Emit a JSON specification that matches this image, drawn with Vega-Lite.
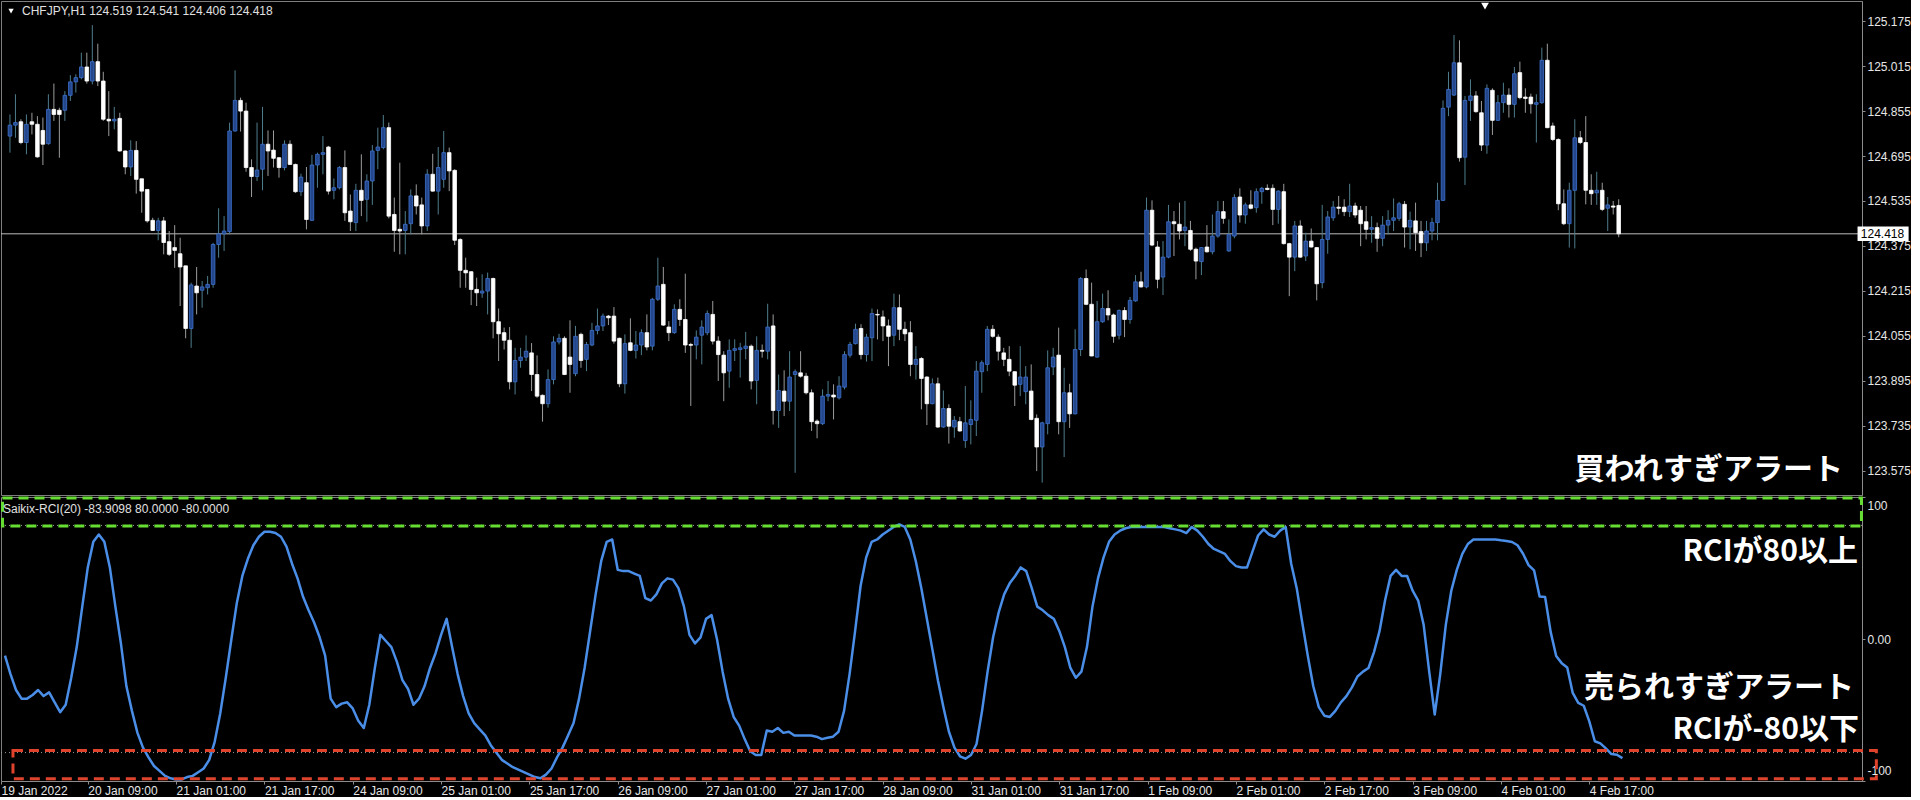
{
"$schema": "https://vega.github.io/schema/vega-lite/v6.json",
"background": "#000000",
"padding": 0,
"spacing": 2,
"bounds": "flush",
"config": {"view": {"stroke": "#7f7f7f", "strokeWidth": 1}},
"datasets": {"bars": [
{"i":0,"o":124.766,"h":124.843,"l":124.707,"c":124.805,"r":-11.7},
{"i":1,"o":124.805,"h":124.915,"l":124.760,"c":124.814,"r":-24.7},
{"i":2,"o":124.817,"h":124.826,"l":124.737,"c":124.743,"r":-35.9},
{"i":3,"o":124.743,"h":124.843,"l":124.701,"c":124.808,"r":-42},
{"i":4,"o":124.817,"h":124.849,"l":124.772,"c":124.808,"r":-42},
{"i":5,"o":124.808,"h":124.837,"l":124.689,"c":124.692,"r":-39.4},
{"i":6,"o":124.786,"h":124.832,"l":124.663,"c":124.737,"r":-35.9},
{"i":7,"o":124.739,"h":124.915,"l":124.735,"c":124.861,"r":-40.2},
{"i":8,"o":124.861,"h":124.953,"l":124.820,"c":124.843,"r":-37.6},
{"i":9,"o":124.858,"h":124.867,"l":124.689,"c":124.843,"r":-44.6},
{"i":10,"o":124.858,"h":124.926,"l":124.820,"c":124.911,"r":-51.5},
{"i":11,"o":124.911,"h":124.983,"l":124.891,"c":124.959,"r":-46.3},
{"i":12,"o":124.959,"h":124.986,"l":124.921,"c":124.974,"r":-27.3},
{"i":13,"o":124.974,"h":125.063,"l":124.968,"c":125.012,"r":-5.7},
{"i":14,"o":125.012,"h":125.063,"l":124.953,"c":124.962,"r":22.8},
{"i":15,"o":124.962,"h":125.161,"l":124.950,"c":125.031,"r":50.4},
{"i":16,"o":125.031,"h":125.095,"l":124.944,"c":124.962,"r":68.4},
{"i":17,"o":124.962,"h":124.995,"l":124.820,"c":124.826,"r":73.6},
{"i":18,"o":124.826,"h":124.926,"l":124.766,"c":124.820,"r":68.4},
{"i":19,"o":124.820,"h":124.870,"l":124.790,"c":124.826,"r":50.4},
{"i":20,"o":124.829,"h":124.849,"l":124.710,"c":124.713,"r":22.8},
{"i":21,"o":124.713,"h":124.715,"l":124.630,"c":124.656,"r":-3.1},
{"i":22,"o":124.656,"h":124.751,"l":124.624,"c":124.715,"r":-33.3},
{"i":23,"o":124.715,"h":124.748,"l":124.561,"c":124.612,"r":-50.6},
{"i":24,"o":124.614,"h":124.614,"l":124.493,"c":124.570,"r":-66.1},
{"i":25,"o":124.576,"h":124.576,"l":124.458,"c":124.464,"r":-76.5},
{"i":26,"o":124.466,"h":124.475,"l":124.428,"c":124.430,"r":-83.4},
{"i":27,"o":124.430,"h":124.475,"l":124.395,"c":124.464,"r":-89.4},
{"i":28,"o":124.464,"h":124.478,"l":124.345,"c":124.387,"r":-92.9},
{"i":29,"o":124.390,"h":124.428,"l":124.339,"c":124.345,"r":-96.4},
{"i":30,"o":124.369,"h":124.449,"l":124.297,"c":124.359,"r":-98.1},
{"i":31,"o":124.347,"h":124.404,"l":124.161,"c":124.300,"r":-98.9},
{"i":32,"o":124.304,"h":124.304,"l":124.046,"c":124.081,"r":-98.9},
{"i":33,"o":124.081,"h":124.244,"l":124.012,"c":124.236,"r":-97.2},
{"i":34,"o":124.232,"h":124.300,"l":124.131,"c":124.208,"r":-96.4},
{"i":35,"o":124.217,"h":124.250,"l":124.155,"c":124.229,"r":-93.8},
{"i":36,"o":124.226,"h":124.268,"l":124.202,"c":124.238,"r":-91.2},
{"i":37,"o":124.238,"h":124.386,"l":124.226,"c":124.380,"r":-85.1},
{"i":38,"o":124.380,"h":124.509,"l":124.333,"c":124.418,"r":-72.2},
{"i":39,"o":124.418,"h":124.481,"l":124.357,"c":124.428,"r":-52.3},
{"i":40,"o":124.426,"h":124.814,"l":124.416,"c":124.784,"r":-27.3},
{"i":41,"o":124.784,"h":125.000,"l":124.782,"c":124.893,"r":-0.5},
{"i":42,"o":124.893,"h":124.903,"l":124.782,"c":124.855,"r":25.4},
{"i":43,"o":124.855,"h":124.885,"l":124.639,"c":124.654,"r":44.4},
{"i":44,"o":124.654,"h":124.683,"l":124.549,"c":124.622,"r":56.5},
{"i":45,"o":124.622,"h":124.814,"l":124.606,"c":124.645,"r":66},
{"i":46,"o":124.648,"h":124.870,"l":124.573,"c":124.737,"r":72},
{"i":47,"o":124.737,"h":124.786,"l":124.624,"c":124.713,"r":75.5},
{"i":48,"o":124.716,"h":124.786,"l":124.654,"c":124.687,"r":75.5},
{"i":49,"o":124.689,"h":124.691,"l":124.618,"c":124.654,"r":74.6},
{"i":50,"o":124.654,"h":124.751,"l":124.644,"c":124.737,"r":72},
{"i":51,"o":124.737,"h":124.751,"l":124.663,"c":124.665,"r":65.1},
{"i":52,"o":124.665,"h":124.668,"l":124.564,"c":124.568,"r":53},
{"i":53,"o":124.568,"h":124.632,"l":124.553,"c":124.620,"r":42.7},
{"i":54,"o":124.600,"h":124.656,"l":124.434,"c":124.469,"r":29.7},
{"i":55,"o":124.466,"h":124.699,"l":124.464,"c":124.663,"r":20.2},
{"i":56,"o":124.663,"h":124.707,"l":124.582,"c":124.701,"r":11.6},
{"i":57,"o":124.701,"h":124.766,"l":124.630,"c":124.707,"r":1.2},
{"i":58,"o":124.727,"h":124.731,"l":124.558,"c":124.570,"r":-11.7},
{"i":59,"o":124.573,"h":124.615,"l":124.541,"c":124.582,"r":-42},
{"i":60,"o":124.582,"h":124.659,"l":124.576,"c":124.654,"r":-48},
{"i":61,"o":124.654,"h":124.715,"l":124.464,"c":124.493,"r":-45.5},
{"i":62,"o":124.499,"h":124.558,"l":124.428,"c":124.461,"r":-44.6},
{"i":63,"o":124.458,"h":124.596,"l":124.428,"c":124.573,"r":-48.9},
{"i":64,"o":124.573,"h":124.701,"l":124.481,"c":124.537,"r":-57.5},
{"i":65,"o":124.541,"h":124.630,"l":124.461,"c":124.606,"r":-62.7},
{"i":66,"o":124.606,"h":124.734,"l":124.521,"c":124.713,"r":-46.3},
{"i":67,"o":124.715,"h":124.796,"l":124.648,"c":124.727,"r":-20.4},
{"i":68,"o":124.725,"h":124.841,"l":124.719,"c":124.796,"r":2.9},
{"i":69,"o":124.796,"h":124.814,"l":124.473,"c":124.481,"r":-1.4},
{"i":70,"o":124.487,"h":124.547,"l":124.354,"c":124.430,"r":-5.7},
{"i":71,"o":124.434,"h":124.671,"l":124.345,"c":124.428,"r":-16.1},
{"i":72,"o":124.430,"h":124.499,"l":124.345,"c":124.452,"r":-29},
{"i":73,"o":124.454,"h":124.576,"l":124.416,"c":124.553,"r":-35},
{"i":74,"o":124.553,"h":124.594,"l":124.487,"c":124.517,"r":-46.3},
{"i":75,"o":124.521,"h":124.547,"l":124.416,"c":124.446,"r":-42},
{"i":76,"o":124.446,"h":124.648,"l":124.428,"c":124.630,"r":-33.3},
{"i":77,"o":124.630,"h":124.703,"l":124.568,"c":124.570,"r":-20.4},
{"i":78,"o":124.570,"h":124.727,"l":124.487,"c":124.654,"r":-10},
{"i":79,"o":124.612,"h":124.784,"l":124.582,"c":124.707,"r":2.9},
{"i":80,"o":124.707,"h":124.725,"l":124.570,"c":124.642,"r":14.2},
{"i":81,"o":124.644,"h":124.648,"l":124.378,"c":124.395,"r":-5.7},
{"i":82,"o":124.398,"h":124.402,"l":124.226,"c":124.288,"r":-24.7},
{"i":83,"o":124.288,"h":124.333,"l":124.226,"c":124.279,"r":-40.2},
{"i":84,"o":124.283,"h":124.285,"l":124.164,"c":124.220,"r":-52.3},
{"i":85,"o":124.220,"h":124.262,"l":124.161,"c":124.208,"r":-59.2},
{"i":86,"o":124.207,"h":124.274,"l":124.190,"c":124.214,"r":-63.6},
{"i":87,"o":124.214,"h":124.280,"l":124.131,"c":124.259,"r":-67.9},
{"i":88,"o":124.259,"h":124.262,"l":124.046,"c":124.105,"r":-74.8},
{"i":89,"o":124.105,"h":124.152,"l":123.965,"c":124.062,"r":-79.9},
{"i":90,"o":124.066,"h":124.084,"l":124.006,"c":124.039,"r":-85.1},
{"i":91,"o":124.039,"h":124.086,"l":123.864,"c":123.891,"r":-87.7},
{"i":92,"o":123.891,"h":124.012,"l":123.846,"c":123.967,"r":-90.3},
{"i":93,"o":123.967,"h":124.012,"l":123.941,"c":123.979,"r":-92},
{"i":94,"o":123.979,"h":124.056,"l":123.965,"c":124.000,"r":-93.8},
{"i":95,"o":123.994,"h":124.029,"l":123.858,"c":123.917,"r":-95.5},
{"i":96,"o":123.917,"h":123.985,"l":123.834,"c":123.840,"r":-97.2},
{"i":97,"o":123.843,"h":123.846,"l":123.749,"c":123.813,"r":-98.1},
{"i":98,"o":123.813,"h":123.935,"l":123.799,"c":123.899,"r":-95.5},
{"i":99,"o":123.899,"h":124.053,"l":123.882,"c":124.033,"r":-91.2},
{"i":100,"o":124.033,"h":124.062,"l":124.024,"c":124.046,"r":-83.4},
{"i":101,"o":124.046,"h":124.053,"l":123.915,"c":123.917,"r":-76.5},
{"i":102,"o":123.979,"h":124.110,"l":123.852,"c":123.953,"r":-67.9},
{"i":103,"o":123.920,"h":124.090,"l":123.911,"c":124.053,"r":-59.2},
{"i":104,"o":124.060,"h":124.066,"l":123.941,"c":123.967,"r":-42},
{"i":105,"o":123.971,"h":124.033,"l":123.929,"c":124.024,"r":-20.4},
{"i":106,"o":124.022,"h":124.101,"l":124.018,"c":124.074,"r":5.5},
{"i":107,"o":124.074,"h":124.152,"l":124.060,"c":124.090,"r":31.4},
{"i":108,"o":124.090,"h":124.134,"l":124.072,"c":124.125,"r":54.8},
{"i":109,"o":124.125,"h":124.129,"l":124.093,"c":124.119,"r":68.4},
{"i":110,"o":124.125,"h":124.157,"l":124.027,"c":124.036,"r":70.1},
{"i":111,"o":124.046,"h":124.048,"l":123.872,"c":123.884,"r":48.7},
{"i":112,"o":123.884,"h":124.060,"l":123.849,"c":124.027,"r":47.8},
{"i":113,"o":124.030,"h":124.117,"l":124.000,"c":124.003,"r":47.8},
{"i":114,"o":124.003,"h":124.072,"l":123.974,"c":124.022,"r":46.1},
{"i":115,"o":124.022,"h":124.078,"l":123.986,"c":124.066,"r":44.4},
{"i":116,"o":124.066,"h":124.131,"l":124.003,"c":124.015,"r":28.8},
{"i":117,"o":124.018,"h":124.190,"l":124.003,"c":124.185,"r":27.1},
{"i":118,"o":124.185,"h":124.333,"l":124.179,"c":124.232,"r":31.4},
{"i":119,"o":124.238,"h":124.300,"l":124.090,"c":124.093,"r":39.2},
{"i":120,"o":124.086,"h":124.107,"l":124.036,"c":124.066,"r":42.7},
{"i":121,"o":124.066,"h":124.167,"l":124.062,"c":124.149,"r":41.8},
{"i":122,"o":124.149,"h":124.185,"l":124.090,"c":124.113,"r":35.8},
{"i":123,"o":124.113,"h":124.276,"l":123.994,"c":124.022,"r":22.8},
{"i":124,"o":124.024,"h":124.030,"l":123.805,"c":124.021,"r":2.9},
{"i":125,"o":124.022,"h":124.074,"l":123.971,"c":124.050,"r":-3.1},
{"i":126,"o":124.057,"h":124.110,"l":123.953,"c":124.086,"r":1.2},
{"i":127,"o":124.066,"h":124.145,"l":124.057,"c":124.134,"r":14.2},
{"i":128,"o":124.131,"h":124.179,"l":124.024,"c":124.036,"r":16.8},
{"i":129,"o":124.036,"h":124.053,"l":123.894,"c":123.988,"r":-0.5},
{"i":130,"o":123.986,"h":124.000,"l":123.822,"c":123.923,"r":-23},
{"i":131,"o":123.929,"h":124.042,"l":123.870,"c":124.003,"r":-42},
{"i":132,"o":124.003,"h":124.042,"l":123.965,"c":124.009,"r":-54.9},
{"i":133,"o":124.006,"h":124.030,"l":123.906,"c":124.012,"r":-61},
{"i":134,"o":124.010,"h":124.069,"l":123.971,"c":124.018,"r":-70.5},
{"i":135,"o":124.018,"h":124.024,"l":123.864,"c":123.894,"r":-79.1},
{"i":136,"o":123.896,"h":124.053,"l":123.811,"c":124.003,"r":-81.7},
{"i":137,"o":124.003,"h":124.024,"l":123.977,"c":124.000,"r":-81.7},
{"i":138,"o":124.000,"h":124.169,"l":123.971,"c":124.086,"r":-64.4},
{"i":139,"o":124.090,"h":124.131,"l":123.739,"c":123.789,"r":-65.3},
{"i":140,"o":123.789,"h":123.917,"l":123.727,"c":123.860,"r":-62.7},
{"i":141,"o":123.858,"h":123.932,"l":123.769,"c":123.822,"r":-66.1},
{"i":142,"o":123.822,"h":124.000,"l":123.787,"c":123.908,"r":-65.3},
{"i":143,"o":123.917,"h":123.935,"l":123.567,"c":123.927,"r":-67.9},
{"i":144,"o":123.923,"h":124.000,"l":123.906,"c":123.911,"r":-67.9},
{"i":145,"o":123.911,"h":123.923,"l":123.846,"c":123.852,"r":-67.9},
{"i":146,"o":123.852,"h":123.864,"l":123.716,"c":123.749,"r":-67.9},
{"i":147,"o":123.751,"h":123.757,"l":123.690,"c":123.742,"r":-68.8},
{"i":148,"o":123.742,"h":123.864,"l":123.737,"c":123.840,"r":-70.5},
{"i":149,"o":123.840,"h":123.894,"l":123.822,"c":123.846,"r":-69.6},
{"i":150,"o":123.844,"h":123.882,"l":123.757,"c":123.837,"r":-68.8},
{"i":151,"o":123.834,"h":123.911,"l":123.828,"c":123.876,"r":-65.3},
{"i":152,"o":123.872,"h":124.000,"l":123.864,"c":123.988,"r":-50.6},
{"i":153,"o":123.986,"h":124.033,"l":123.977,"c":124.024,"r":-24.7},
{"i":154,"o":124.027,"h":124.098,"l":124.024,"c":124.078,"r":5.5},
{"i":155,"o":124.081,"h":124.096,"l":123.971,"c":123.988,"r":37.5},
{"i":156,"o":123.988,"h":124.062,"l":123.963,"c":124.050,"r":57.3},
{"i":157,"o":124.048,"h":124.152,"l":123.965,"c":124.134,"r":68.4},
{"i":158,"o":124.131,"h":124.149,"l":124.042,"c":124.129,"r":70.1},
{"i":159,"o":124.122,"h":124.145,"l":124.036,"c":124.090,"r":73.6},
{"i":160,"o":124.090,"h":124.113,"l":123.947,"c":124.053,"r":76.3},
{"i":161,"o":124.057,"h":124.205,"l":124.018,"c":124.155,"r":78.9},
{"i":162,"o":124.155,"h":124.202,"l":124.039,"c":124.078,"r":80.7},
{"i":163,"o":124.078,"h":124.105,"l":124.036,"c":124.062,"r":78.9},
{"i":164,"o":124.066,"h":124.107,"l":123.911,"c":123.953,"r":70.1},
{"i":165,"o":123.953,"h":124.018,"l":123.899,"c":123.971,"r":54.8},
{"i":166,"o":123.974,"h":123.979,"l":123.793,"c":123.903,"r":35.8},
{"i":167,"o":123.908,"h":123.911,"l":123.737,"c":123.813,"r":14.2},
{"i":168,"o":123.813,"h":123.903,"l":123.811,"c":123.884,"r":-7.3},
{"i":169,"o":123.884,"h":123.906,"l":123.727,"c":123.730,"r":-29},
{"i":170,"o":123.730,"h":123.860,"l":123.727,"c":123.796,"r":-48},
{"i":171,"o":123.796,"h":123.811,"l":123.671,"c":123.733,"r":-65.3},
{"i":172,"o":123.730,"h":123.769,"l":123.692,"c":123.754,"r":-76.5},
{"i":173,"o":123.749,"h":123.766,"l":123.713,"c":123.716,"r":-82.6},
{"i":174,"o":123.682,"h":123.876,"l":123.656,"c":123.745,"r":-84.3},
{"i":175,"o":123.739,"h":123.825,"l":123.668,"c":123.757,"r":-81.7},
{"i":176,"o":123.754,"h":123.965,"l":123.698,"c":123.929,"r":-73.9},
{"i":177,"o":123.927,"h":123.967,"l":123.852,"c":123.959,"r":-50.6},
{"i":178,"o":123.953,"h":124.090,"l":123.929,"c":124.078,"r":-23},
{"i":179,"o":124.078,"h":124.093,"l":124.048,"c":124.053,"r":1.2},
{"i":180,"o":124.050,"h":124.060,"l":123.967,"c":124.000,"r":18.5},
{"i":181,"o":123.994,"h":124.012,"l":123.947,"c":123.971,"r":31.4},
{"i":182,"o":123.971,"h":124.018,"l":123.911,"c":123.929,"r":39.2},
{"i":183,"o":123.927,"h":123.929,"l":123.805,"c":123.879,"r":44.4},
{"i":184,"o":123.882,"h":124.018,"l":123.840,"c":123.908,"r":50.4},
{"i":185,"o":123.856,"h":123.947,"l":123.811,"c":123.908,"r":47.8},
{"i":186,"o":123.858,"h":123.953,"l":123.754,"c":123.757,"r":35.8},
{"i":187,"o":123.761,"h":123.775,"l":123.573,"c":123.659,"r":22.8},
{"i":188,"o":123.659,"h":123.749,"l":123.532,"c":123.745,"r":20.2},
{"i":189,"o":123.742,"h":124.003,"l":123.704,"c":123.941,"r":16.8},
{"i":190,"o":123.944,"h":124.012,"l":123.915,"c":123.979,"r":14.2},
{"i":191,"o":123.986,"h":124.084,"l":123.704,"c":123.749,"r":5.5},
{"i":192,"o":123.749,"h":123.941,"l":123.623,"c":123.852,"r":-5.7},
{"i":193,"o":123.852,"h":123.884,"l":123.727,"c":123.777,"r":-20.4},
{"i":194,"o":123.777,"h":124.078,"l":123.775,"c":124.006,"r":-27.3},
{"i":195,"o":124.006,"h":124.264,"l":123.983,"c":124.259,"r":-23},
{"i":196,"o":124.259,"h":124.291,"l":124.164,"c":124.167,"r":-5.7},
{"i":197,"o":124.167,"h":124.244,"l":123.982,"c":123.983,"r":22.8},
{"i":198,"o":123.979,"h":124.179,"l":123.977,"c":124.105,"r":42.7},
{"i":199,"o":124.105,"h":124.205,"l":124.101,"c":124.152,"r":57.3},
{"i":200,"o":124.152,"h":124.217,"l":124.110,"c":124.129,"r":68.4},
{"i":201,"o":124.129,"h":124.134,"l":124.030,"c":124.053,"r":73.6},
{"i":202,"o":124.057,"h":124.149,"l":124.042,"c":124.145,"r":76.3},
{"i":203,"o":124.145,"h":124.157,"l":124.050,"c":124.113,"r":78},
{"i":204,"o":124.113,"h":124.193,"l":124.098,"c":124.181,"r":78.9},
{"i":205,"o":124.179,"h":124.271,"l":124.176,"c":124.247,"r":78.9},
{"i":206,"o":124.247,"h":124.283,"l":124.226,"c":124.229,"r":78.9},
{"i":207,"o":124.229,"h":124.547,"l":124.224,"c":124.502,"r":78.9},
{"i":208,"o":124.502,"h":124.537,"l":124.374,"c":124.378,"r":78.9},
{"i":209,"o":124.371,"h":124.392,"l":124.224,"c":124.256,"r":78.9},
{"i":210,"o":124.264,"h":124.392,"l":124.200,"c":124.335,"r":78.9},
{"i":211,"o":124.335,"h":124.521,"l":124.331,"c":124.461,"r":78},
{"i":212,"o":124.461,"h":124.499,"l":124.339,"c":124.454,"r":77.2},
{"i":213,"o":124.452,"h":124.529,"l":124.398,"c":124.428,"r":76.3},
{"i":214,"o":124.430,"h":124.535,"l":124.374,"c":124.442,"r":74.6},
{"i":215,"o":124.430,"h":124.464,"l":124.357,"c":124.363,"r":78.9},
{"i":216,"o":124.363,"h":124.369,"l":124.256,"c":124.321,"r":76.3},
{"i":217,"o":124.319,"h":124.371,"l":124.271,"c":124.369,"r":72},
{"i":218,"o":124.371,"h":124.449,"l":124.351,"c":124.354,"r":66.9},
{"i":219,"o":124.354,"h":124.487,"l":124.345,"c":124.410,"r":63.4},
{"i":220,"o":124.410,"h":124.535,"l":124.404,"c":124.497,"r":61.7},
{"i":221,"o":124.497,"h":124.535,"l":124.454,"c":124.473,"r":59.9},
{"i":222,"o":124.357,"h":124.469,"l":124.354,"c":124.416,"r":54.8},
{"i":223,"o":124.410,"h":124.559,"l":124.402,"c":124.547,"r":51.3},
{"i":224,"o":124.549,"h":124.580,"l":124.458,"c":124.485,"r":50.4},
{"i":225,"o":124.485,"h":124.529,"l":124.454,"c":124.521,"r":50.4},
{"i":226,"o":124.521,"h":124.573,"l":124.505,"c":124.509,"r":61.7},
{"i":227,"o":124.511,"h":124.580,"l":124.493,"c":124.568,"r":72.9},
{"i":228,"o":124.568,"h":124.585,"l":124.525,"c":124.580,"r":77.2},
{"i":229,"o":124.580,"h":124.594,"l":124.573,"c":124.576,"r":73.6},
{"i":230,"o":124.580,"h":124.594,"l":124.449,"c":124.505,"r":72},
{"i":231,"o":124.505,"h":124.573,"l":124.454,"c":124.570,"r":76.3},
{"i":232,"o":124.568,"h":124.596,"l":124.380,"c":124.383,"r":78.9},
{"i":233,"o":124.383,"h":124.386,"l":124.196,"c":124.335,"r":53},
{"i":234,"o":124.335,"h":124.464,"l":124.285,"c":124.446,"r":35.8},
{"i":235,"o":124.446,"h":124.466,"l":124.333,"c":124.335,"r":11.6},
{"i":236,"o":124.339,"h":124.422,"l":124.321,"c":124.392,"r":-11.7},
{"i":237,"o":124.392,"h":124.437,"l":124.369,"c":124.371,"r":-33.3},
{"i":238,"o":124.369,"h":124.371,"l":124.181,"c":124.240,"r":-48},
{"i":239,"o":124.244,"h":124.521,"l":124.224,"c":124.398,"r":-54},
{"i":240,"o":124.398,"h":124.499,"l":124.347,"c":124.478,"r":-54.9},
{"i":241,"o":124.475,"h":124.535,"l":124.464,"c":124.513,"r":-50.6},
{"i":242,"o":124.513,"h":124.553,"l":124.487,"c":124.509,"r":-44.6},
{"i":243,"o":124.513,"h":124.541,"l":124.481,"c":124.497,"r":-40.2},
{"i":244,"o":124.497,"h":124.596,"l":124.478,"c":124.517,"r":-34.1},
{"i":245,"o":124.517,"h":124.529,"l":124.475,"c":124.485,"r":-26.4},
{"i":246,"o":124.502,"h":124.517,"l":124.374,"c":124.454,"r":-23},
{"i":247,"o":124.461,"h":124.517,"l":124.398,"c":124.434,"r":-20.4},
{"i":248,"o":124.434,"h":124.481,"l":124.386,"c":124.440,"r":-9.2},
{"i":249,"o":124.440,"h":124.458,"l":124.354,"c":124.402,"r":5.5},
{"i":250,"o":124.402,"h":124.481,"l":124.374,"c":124.449,"r":27.1},
{"i":251,"o":124.449,"h":124.502,"l":124.416,"c":124.466,"r":44.4},
{"i":252,"o":124.466,"h":124.544,"l":124.428,"c":124.475,"r":48.7},
{"i":253,"o":124.473,"h":124.532,"l":124.464,"c":124.525,"r":44.4},
{"i":254,"o":124.523,"h":124.535,"l":124.369,"c":124.442,"r":44.4},
{"i":255,"o":124.442,"h":124.497,"l":124.363,"c":124.466,"r":34},
{"i":256,"o":124.464,"h":124.529,"l":124.357,"c":124.422,"r":27.1},
{"i":257,"o":124.426,"h":124.464,"l":124.335,"c":124.386,"r":9.8},
{"i":258,"o":124.386,"h":124.464,"l":124.357,"c":124.428,"r":-23},
{"i":259,"o":124.428,"h":124.475,"l":124.395,"c":124.458,"r":-53.2},
{"i":260,"o":124.458,"h":124.600,"l":124.395,"c":124.537,"r":-24.7},
{"i":261,"o":124.537,"h":124.893,"l":124.535,"c":124.865,"r":9.8},
{"i":262,"o":124.869,"h":124.995,"l":124.837,"c":124.932,"r":34},
{"i":263,"o":124.912,"h":125.126,"l":124.909,"c":125.027,"r":48.7},
{"i":264,"o":125.027,"h":125.107,"l":124.675,"c":124.689,"r":59.9},
{"i":265,"o":124.691,"h":124.909,"l":124.592,"c":124.893,"r":66.9},
{"i":266,"o":124.893,"h":124.968,"l":124.820,"c":124.909,"r":70.1},
{"i":267,"o":124.909,"h":124.926,"l":124.849,"c":124.853,"r":70.1},
{"i":268,"o":124.849,"h":124.891,"l":124.713,"c":124.734,"r":70.1},
{"i":269,"o":124.734,"h":124.950,"l":124.703,"c":124.936,"r":70.1},
{"i":270,"o":124.929,"h":124.936,"l":124.770,"c":124.822,"r":70.1},
{"i":271,"o":124.822,"h":124.912,"l":124.820,"c":124.885,"r":69.5},
{"i":272,"o":124.885,"h":124.956,"l":124.849,"c":124.912,"r":69},
{"i":273,"o":124.912,"h":124.936,"l":124.832,"c":124.879,"r":68.3},
{"i":274,"o":124.879,"h":125.012,"l":124.832,"c":124.988,"r":66},
{"i":275,"o":124.992,"h":125.031,"l":124.897,"c":124.903,"r":60},
{"i":276,"o":124.905,"h":124.936,"l":124.849,"c":124.900,"r":52},
{"i":277,"o":124.905,"h":124.917,"l":124.846,"c":124.881,"r":48.3},
{"i":278,"o":124.879,"h":124.915,"l":124.743,"c":124.885,"r":30},
{"i":279,"o":124.885,"h":125.081,"l":124.881,"c":125.036,"r":29.5},
{"i":280,"o":125.036,"h":125.095,"l":124.794,"c":124.796,"r":5},
{"i":281,"o":124.802,"h":124.814,"l":124.748,"c":124.754,"r":-12},
{"i":282,"o":124.754,"h":124.758,"l":124.502,"c":124.525,"r":-17},
{"i":283,"o":124.525,"h":124.576,"l":124.449,"c":124.454,"r":-20},
{"i":284,"o":124.454,"h":124.600,"l":124.369,"c":124.573,"r":-38},
{"i":285,"o":124.573,"h":124.826,"l":124.366,"c":124.760,"r":-45},
{"i":286,"o":124.760,"h":124.784,"l":124.737,"c":124.743,"r":-47},
{"i":287,"o":124.743,"h":124.837,"l":124.523,"c":124.573,"r":-58},
{"i":288,"o":124.573,"h":124.630,"l":124.521,"c":124.561,"r":-72},
{"i":289,"o":124.564,"h":124.639,"l":124.521,"c":124.573,"r":-73.5},
{"i":290,"o":124.573,"h":124.600,"l":124.499,"c":124.505,"r":-77},
{"i":291,"o":124.509,"h":124.549,"l":124.428,"c":124.521,"r":-81},
{"i":292,"o":124.517,"h":124.535,"l":124.487,"c":124.513,"r":-81.5},
{"i":293,"o":124.519,"h":124.541,"l":124.406,"c":124.418,"r":-83.9098}
]},
"vconcat": [
{
"width": 1861,
"height": 494,
"data": {"name": "bars"},
"layer": [
{"data": {"values": [{}]}, "mark": {"type": "rule", "color": "#bdbdbd", "strokeWidth": 1}, "encoding": {"y": {"datum": 124.418, "type": "quantitative"}}},
{"mark": {"type": "rule", "strokeWidth": 1},
 "encoding": {
  "x": {"field": "i", "type": "quantitative", "scale": {"domain": [-0.72, 336.4], "nice": false, "zero": false}, "axis": null},
  "y": {"field": "l", "type": "quantitative", "scale": {"domain": [123.488, 125.247], "nice": false, "zero": false},
        "axis": {"orient": "right", "values": [125.175, 125.015, 124.855, 124.695, 124.535, 124.375, 124.215, 124.055, 123.895, 123.735, 123.575], "format": ".3f", "title": null, "grid": false, "labelColor": "#e6e6e6", "labelFont": "Liberation Sans", "labelFontSize": 12, "tickColor": "#8c8c8c", "tickSize": 3, "domainColor": "#8c8c8c", "labelPadding": 2, "labelFlush": false, "labelOverlap": false}},
  "y2": {"field": "h"},
  "color": {"condition": {"test": "datum.c > datum.o", "value": "#4f7d8c"}, "value": "#9c9c9c"}
 }},
{"mark": {"type": "bar", "size": 3.6, "strokeWidth": 0.8},
 "encoding": {
  "x": {"field": "i", "type": "quantitative"},
  "y": {"field": "o", "type": "quantitative"},
  "y2": {"field": "c"},
  "fill": {"condition": {"test": "datum.c > datum.o", "value": "#24478c"}, "value": "#ffffff"},
  "stroke": {"condition": {"test": "datum.c > datum.o", "value": "#3d72cf"}, "value": "#ffffff"}
 }},
{"data": {"values": [{}]}, "mark": {"type": "point", "shape": "triangle-down", "filled": true, "color": "#ffffff", "size": 28, "opacity": 1}, "encoding": {"x": {"datum": 0.2}, "y": {"datum": 125.211}}},
{"data": {"values": [{}]}, "mark": {"type": "point", "shape": "triangle-down", "filled": true, "color": "#ffffff", "size": 60, "opacity": 1}, "encoding": {"x": {"datum": 268.65}, "y": {"datum": 125.229}}},
{"data": {"values": [{}]}, "mark": {"type": "text", "align": "left", "baseline": "middle", "font": "Liberation Sans", "fontSize": 12, "color": "#e0e0e0", "text": "CHFJPY,H1  124.519 124.541 124.406 124.418"}, "encoding": {"x": {"datum": 2.2}, "y": {"datum": 125.211}}},
{"data": {"values": [{}]}, "mark": {"type": "rect", "color": "#ffffff"}, "encoding": {"x": {"datum": 336.5}, "x2": {"datum": 345.8}, "y": {"datum": 124.444}, "y2": {"datum": 124.392}}},
{"data": {"values": [{}]}, "mark": {"type": "text", "align": "left", "baseline": "middle", "font": "Liberation Sans", "fontSize": 12, "color": "#000000", "text": "124.418"}, "encoding": {"x": {"datum": 337.1}, "y": {"datum": 124.418}}},
{"data": {"values": [{}]}, "mark": {"type": "text", "align": "right", "baseline": "middle", "font": "Noto Sans CJK JP", "fontWeight": "bold", "fontSize": 30, "color": "#ffffff", "text": "買われすぎアラート"}, "encoding": {"x": {"datum": 333.86}, "y": {"datum": 123.578}}}
]
},
{
"width": 1861,
"height": 284,
"data": {"name": "bars"},
"layer": [
{"data": {"values": [{}]}, "mark": {"type": "rule", "color": "#9a9a9a", "strokeWidth": 1, "strokeDash": [1, 3]}, "encoding": {"y": {"datum": 80, "type": "quantitative"}}},
{"data": {"values": [{}]}, "mark": {"type": "rule", "color": "#9a9a9a", "strokeWidth": 1, "strokeDash": [1, 3]}, "encoding": {"y": {"datum": -80, "type": "quantitative"}}},
{"mark": {"type": "line", "color": "#4a8ee8", "strokeWidth": 2.5, "strokeJoin": "round"},
 "encoding": {
  "x": {"field": "i", "type": "quantitative", "scale": {"domain": [-0.72, 336.4], "nice": false, "zero": false},
        "axis": {"orient": "bottom", "values": [-0.72, 15, 31, 47, 63, 79, 95, 111, 127, 143, 159, 175, 191, 207, 223, 239, 255, 271, 287], "labelExpr": "['19 Jan 2022','20 Jan 09:00','21 Jan 01:00','21 Jan 17:00','24 Jan 09:00','25 Jan 01:00','25 Jan 17:00','26 Jan 09:00','27 Jan 01:00','27 Jan 17:00','28 Jan 09:00','31 Jan 01:00','31 Jan 17:00','1 Feb 09:00','2 Feb 01:00','2 Feb 17:00','3 Feb 09:00','4 Feb 01:00','4 Feb 17:00'][round((datum.value + 1) / 16)]", "labelAlign": "left", "labelBaseline": "top", "title": null, "grid": false, "labelColor": "#e6e6e6", "labelFont": "Liberation Sans", "labelFontSize": 12, "tickColor": "#8c8c8c", "tickSize": 3, "domainColor": "#8c8c8c", "labelPadding": 1, "labelFlush": false, "labelOverlap": false}},
  "y": {"field": "r", "type": "quantitative", "scale": {"domain": [-100, 100], "nice": false, "zero": false},
        "axis": {"orient": "right", "values": [100, 0, -100], "labelExpr": "datum.value == 0 ? '0.00' : (datum.value < 0 ? '-100' : '100')", "labelFlush": true, "labelOffset": {"condition": [{"test": "datum.value == 100", "value": 3}, {"test": "datum.value == -100", "value": -4}], "value": 0}, "title": null, "grid": false, "labelColor": "#e6e6e6", "labelFont": "Liberation Sans", "labelFontSize": 12, "tickColor": "#8c8c8c", "tickSize": 3, "domainColor": "#8c8c8c", "labelPadding": 2}}
 }},
{"data": {"values": [{}]}, "mark": {"type": "rect", "fill": "#000000", "fillOpacity": 0, "stroke": "#66dd33", "strokeWidth": 3, "strokeDash": [10, 6]}, "encoding": {"x": {"datum": -0.45}, "x2": {"datum": 336.3}, "y": {"datum": 99.3}, "y2": {"datum": 79.6}}},
{"data": {"values": [{}]}, "mark": {"type": "rect", "fill": "#000000", "fillOpacity": 0, "stroke": "#e0432c", "strokeWidth": 3, "strokeDash": [10, 6]}, "encoding": {"x": {"datum": 1.45}, "x2": {"datum": 339}, "y": {"datum": -78.6}, "y2": {"datum": -98.4}}},
{"data": {"values": [{}]}, "mark": {"type": "text", "align": "left", "baseline": "middle", "font": "Liberation Sans", "fontSize": 12, "color": "#e0e0e0", "text": "Saikix-RCI(20) -83.9098 80.0000 -80.0000"}, "encoding": {"x": {"datum": -0.36}, "y": {"datum": 91.5}}},
{"data": {"values": [{}]}, "mark": {"type": "text", "align": "right", "baseline": "middle", "font": "Noto Sans CJK JP", "fontWeight": "bold", "fontSize": 30, "color": "#ffffff", "text": "RCIが80以上"}, "encoding": {"x": {"datum": 335.67}, "y": {"datum": 61.3}}},
{"data": {"values": [{}]}, "mark": {"type": "text", "align": "right", "baseline": "middle", "font": "Noto Sans CJK JP", "fontWeight": "bold", "fontSize": 30, "color": "#ffffff", "text": "売られすぎアラート"}, "encoding": {"x": {"datum": 334.95}, "y": {"datum": -34.5}}},
{"data": {"values": [{}]}, "mark": {"type": "text", "align": "right", "baseline": "middle", "font": "Noto Sans CJK JP", "fontWeight": "bold", "fontSize": 30, "color": "#ffffff", "text": "RCIが-80以下"}, "encoding": {"x": {"datum": 335.85}, "y": {"datum": -64}}}
]
}
]
}
